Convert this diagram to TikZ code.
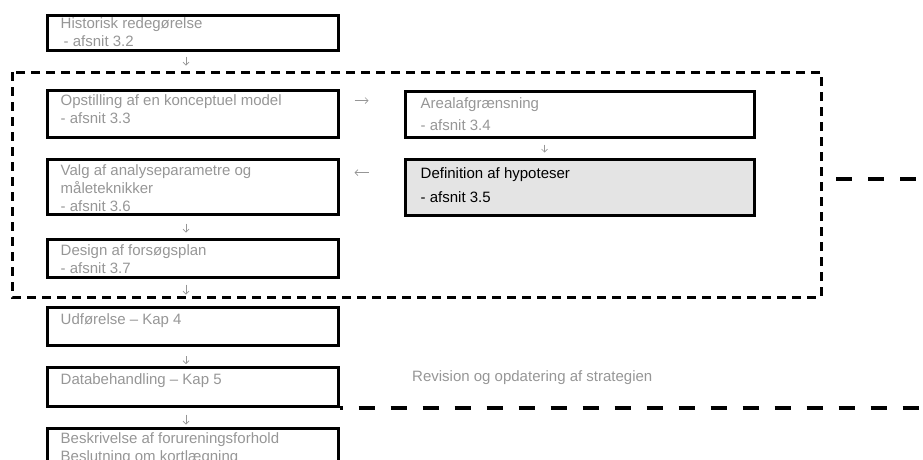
\documentclass[tikz,border=0pt]{standalone}
\usepackage{fontspec}
\setmainfont{Liberation Sans}
\usetikzlibrary{arrows.meta, positioning}
\definecolor{textGray}{RGB}{150,150,150}
\definecolor{hypoFill}{RGB}{228,228,228}
\tikzset{
    box/.style={draw=black, line width=3pt, anchor=north west, inner sep=0pt},
    shaded/.style={box, fill=hypoFill},
    txt/.style={anchor=north west, align=left, inner sep=0pt, text=textGray, font=\fontsize{15}{18}\selectfont},
    arr/.style={draw=textGray, line width=0.7pt, -{Straight Barb[length=3pt, width=6pt]}},
    zone/.style={draw=black, line width=3pt, dash pattern=on 9pt off 6pt},
    revision/.style={draw=black, line width=4pt, dash pattern=on 16pt off 16pt}
}

\begin{document}
\begin{tikzpicture}[x=1pt, y=-1pt]
    \useasboundingbox (0,0) rectangle (923,459);
    \clip (0,0) rectangle (923,459);

    % Draw the boxes of the left column
    \node[box, minimum width=291pt, minimum height=35pt] (hist) at (45.5,13.5) {};
    \node[box, minimum width=291pt, minimum height=47pt] (opst) at (45.5,88.5) {};
    \node[box, minimum width=291pt, minimum height=55pt] (valg) at (45.5,158) {};
    \node[box, minimum width=291pt, minimum height=38pt] (design) at (45.5,238) {};
    \node[box, minimum width=291pt, minimum height=38pt] (udf) at (45.5,306) {};
    \node[box, minimum width=291pt, minimum height=39pt] (data) at (45.5,366) {};
    \node[box, minimum width=291pt, minimum height=60pt] (besk) at (45.5,426.5) {};

    % Draw the boxes of the right column
    \node[box, minimum width=349pt, minimum height=46pt] (areal) at (403.5,89.5) {};
    \node[shaded, minimum width=349pt, minimum height=56pt] (hypo) at (403.5,158) {};

    % Texts of the boxes
    \node[txt] (histT) at ([shift={(15,4)}]hist.north west) {Historisk redegørelse\\\hspace{3pt}- afsnit 3.2};
    \node[txt] (opstT) at ([shift={(15,6)}]opst.north west) {Opstilling af en konceptuel model\\- afsnit 3.3};
    \node[txt] (valgT) at ([shift={(15,6)}]valg.north west) {Valg af analyseparametre og\\måleteknikker\\- afsnit 3.6};
    \node[txt] (designT) at ([shift={(15,6)}]design.north west) {Design af forsøgsplan\\- afsnit 3.7};
    \node[txt] (udfT) at ([shift={(15,7)}]udf.north west) {Udførelse – Kap 4};
    \node[txt] (dataT) at ([shift={(15,7)}]data.north west) {Databehandling – Kap 5};
    \node[txt] (beskT) at ([shift={(15,5.5)}]besk.north west) {Beskrivelse af forureningsforhold\\Beslutning om kortlægning};
    \node[txt] (arealT) at ([shift={(17,7.5)}]areal.north west) {Arealafgrænsning\\[4.5pt]- afsnit 3.4};
    \node[txt, text=black] (hypoT) at ([shift={(17,9.5)}]hypo.north west) {Definition af hypoteser\\[6pt]- afsnit 3.5};
    \node[txt, anchor=west] (revT) at (412,378) {Revision og opdatering af strategien};

    % Arrows between the boxes
    \draw[arr, shorten <=5pt, shorten >=23pt] ([xshift=-6.5pt]hist.south) -- ([xshift=-6.5pt]opst.north);
    \draw[arr, shorten <=7.5pt, shorten >=5.5pt] ([xshift=-6.5pt]valg.south) -- ([xshift=-6.5pt]design.north);
    \draw[arr, shorten <=5.5pt, shorten >=11.5pt] ([xshift=-6.5pt]design.south) -- ([xshift=-6.5pt]udf.north);
    \draw[arr, shorten <=9pt, shorten >=2pt] ([xshift=-6.5pt]udf.south) -- ([xshift=-6.5pt]data.north);
    \draw[arr, shorten <=6.5pt, shorten >=2pt] ([xshift=-6.5pt]data.south) -- ([xshift=-6.5pt]besk.north);
    \draw[arr, shorten <=6pt, shorten >=5.5pt] ([xshift=-35pt]areal.south) -- ([xshift=-35pt]hypo.north);
    \coordinate (toAreal) at ([yshift=-12pt]opst.north east);
    \draw[arr, shorten <=15pt, shorten >=35pt] (toAreal) -- (toAreal -| areal.west);
    \coordinate (fromHypo) at ([yshift=-14.5pt]hypo.north west);
    \draw[arr, shorten <=35pt, shorten >=15pt] (fromHypo) -- (fromHypo -| valg.east);

    % Draw the dashed zone round the strategy steps
    \coordinate (zoneNW) at (12,72);
    \coordinate (zoneSE) at (821,297);
    \draw[zone] (zoneNW) rectangle (zoneSE);

    % Revision lines
    \coordinate (hypoOut) at (923,179);
    \draw[revision, dash phase=17pt] (zoneSE |- hypoOut) -- (hypoOut);
    \coordinate (revEnd) at (923,406);
    \draw[revision, dash phase=13pt] (data.south east) -- (data.south east -| revEnd);
\end{tikzpicture}
\end{document}
